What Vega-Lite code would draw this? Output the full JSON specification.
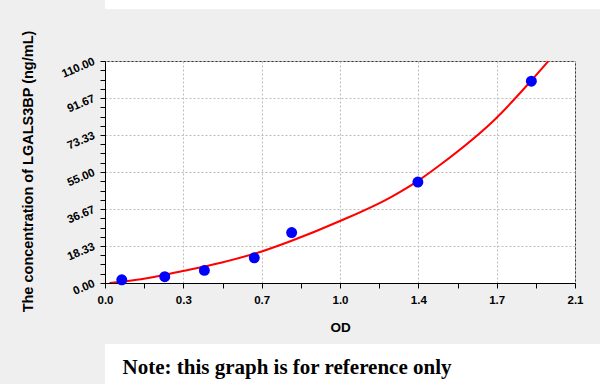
{
  "$schema": "https://vega.github.io/schema/vega-lite/v6.json",
  "background": "#efefef",
  "padding": 0,
  "columns": 1,
  "align": "none",
  "spacing": 10,
  "bounds": "full",
  "center": false,
  "datasets": {
    "curve": [
      {"od": 0.02, "conc": 0},
      {"od": 0.161, "conc": 1.83},
      {"od": 0.347, "conc": 5.95},
      {"od": 0.518, "conc": 10.06},
      {"od": 0.697, "conc": 15.51},
      {"od": 0.831, "conc": 20.81},
      {"od": 1.05, "conc": 30.72},
      {"od": 1.278, "conc": 42.61},
      {"od": 1.402, "conc": 50.89},
      {"od": 1.501, "conc": 58.82},
      {"od": 1.75, "conc": 81.91},
      {"od": 1.903, "conc": 100.09},
      {"od": 1.988, "conc": 110.85}
    ],
    "points": [
      {"od": 0.075, "conc": 1.56},
      {"od": 0.267, "conc": 3.13},
      {"od": 0.444, "conc": 6.25},
      {"od": 0.667, "conc": 12.5},
      {"od": 0.834, "conc": 25},
      {"od": 1.398, "conc": 50},
      {"od": 1.905, "conc": 100}
    ],
    "strip": [{"t": ""}],
    "note": [{"note": "Note: this graph is for reference only"}]
  },
  "concat": [
    {
      "width": 496,
      "height": 9,
      "view": {"fill": "white", "stroke": null},
      "data": {"name": "strip"},
      "mark": {"type": "text", "fontSize": 1},
      "encoding": {"text": {"field": "t"}}
    },
    {
      "width": 470,
      "height": 222,
      "title": {"text": ".", "color": "transparent", "fontSize": 10, "anchor": "start", "frame": "group", "dx": -104, "offset": 0},
      "view": {"fill": "white", "stroke": "#333333", "strokeWidth": 1},
      "encoding": {
        "x": {
          "field": "od",
          "type": "quantitative",
          "scale": {"domain": [0, 2.1], "nice": false, "zero": false},
          "axis": {
            "title": "OD",
            "values": [0, 0.175, 0.35, 0.525, 0.7, 0.875, 1.05, 1.225, 1.4, 1.575, 1.75, 1.925, 2.1],
            "labelExpr": "abs(datum.value/0.35 - round(datum.value/0.35)) < 0.01 ? format(floor(datum.value*10 + 0.0001)/10, '.1f') : ''",
            "labelFont": "Liberation Sans",
            "labelFontSize": 11.5,
            "labelFontWeight": "bold",
            "labelColor": "#000000",
            "labelPadding": 6,
            "labelOverlap": false,
            "labelFlush": false,
            "grid": true,
            "gridColor": {"condition": {"test": "abs(datum.value/0.35 - round(datum.value/0.35)) < 0.01", "value": "#bdbdbd"}, "value": "transparent"},
            "gridDash": [2, 2],
            "gridWidth": 1,
            "tickColor": "#000000",
            "tickSize": 5,
            "domainColor": "#000000",
            "titleFont": "Liberation Sans",
            "titleFontSize": 13.5,
            "titleFontWeight": "bold",
            "titleColor": "#000000",
            "titleX": 235,
            "titleY": 37,
            "titleAlign": "center",
            "titleBaseline": "top"
          }
        },
        "y": {
          "field": "conc",
          "type": "quantitative",
          "scale": {"domain": [0, 110], "nice": false, "zero": false},
          "axis": {
            "title": "The concentration of LGALS3BP (ng/mL)",
            "values": [0, 4.583333, 9.166667, 13.75, 18.333333, 22.916667, 27.5, 32.083333, 36.666667, 41.25, 45.833333, 50.416667, 55, 59.583333, 64.166667, 68.75, 73.333333, 77.916667, 82.5, 87.083333, 91.666667, 96.25, 100.833333, 105.416667, 110],
            "labelExpr": "abs(datum.value/18.333333 - round(datum.value/18.333333)) < 0.01 ? format(datum.value, '.2f') : ''",
            "labelAngle": -23,
            "labelAlign": "right",
            "labelBaseline": "middle",
            "labelFont": "Liberation Sans",
            "labelFontSize": 11.5,
            "labelFontWeight": "bold",
            "labelColor": "#000000",
            "labelPadding": 6,
            "labelOverlap": false,
            "labelFlush": false,
            "grid": true,
            "gridColor": {"condition": {"test": "abs(datum.value/18.333333 - round(datum.value/18.333333)) < 0.01", "value": "#bdbdbd"}, "value": "transparent"},
            "gridDash": [2, 2],
            "gridWidth": 1,
            "tickColor": "#000000",
            "tickSize": 5,
            "domainColor": "#000000",
            "titleFont": "Liberation Sans",
            "titleFontSize": 14.5,
            "titleFontWeight": "bold",
            "titleColor": "#000000",
            "titleX": -77,
            "titleY": 110,
            "titleAngle": 270,
            "titleAlign": "center",
            "titleBaseline": "middle"
          }
        }
      },
      "layer": [
        {
          "data": {"name": "curve"},
          "mark": {"type": "line", "color": "#ff0000", "strokeWidth": 2, "interpolate": "monotone", "clip": true}
        },
        {
          "data": {"name": "points"},
          "mark": {"type": "point", "shape": "circle", "filled": true, "color": "#0000ff", "opacity": 1, "size": 120}
        }
      ]
    },
    {
      "width": 496,
      "height": 41,
      "view": {"fill": "white", "stroke": null},
      "data": {"name": "note"},
      "mark": {"type": "text", "font": "Liberation Serif", "fontSize": 21, "fontWeight": "bold", "color": "#000000", "dx": -66, "dy": 3, "baseline": "middle", "align": "center"},
      "encoding": {"text": {"field": "note"}}
    }
  ]
}
